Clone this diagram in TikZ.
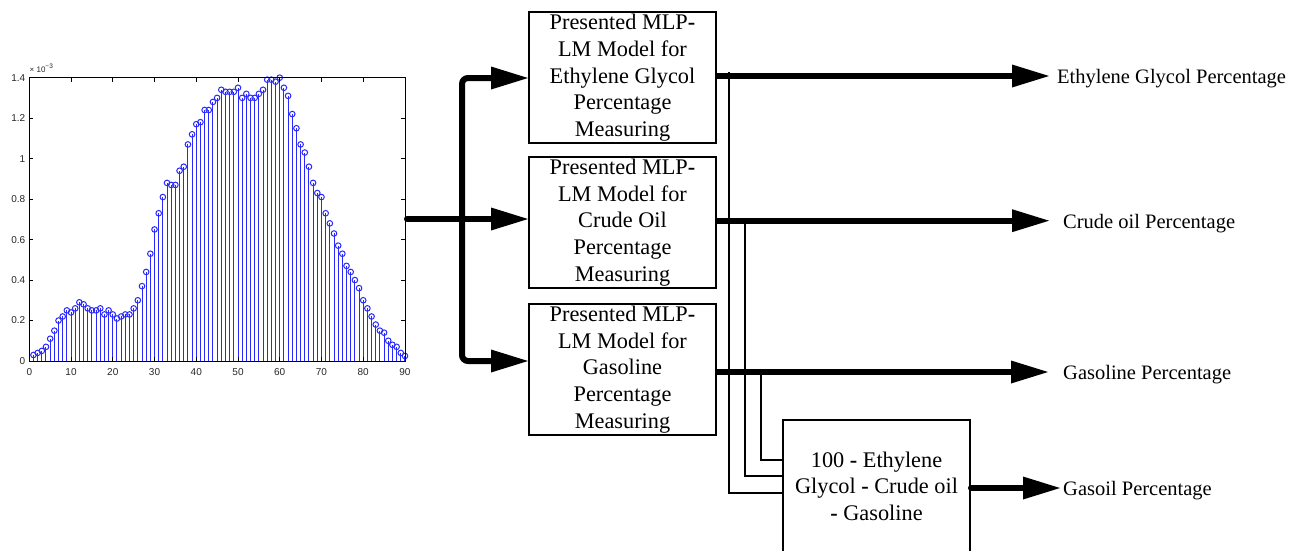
\documentclass[tikz,border=0pt]{standalone}
\usepackage{fontspec}
\setmainfont{Liberation Serif}
\newfontfamily\plotfont{Liberation Sans}
\usetikzlibrary{arrows.meta}
\definecolor{stemblue}{RGB}{40,40,255}
\tikzset{
  model/.style={draw, line width=2pt, minimum width=187pt, minimum height=131pt,
    align=center, inner sep=0pt, font=\fontsize{22.3}{26.6}\selectfont},
  bigarrow/.style={line width=6pt, -{Triangle[length=37pt,width=23pt,line width=0pt]}},
  thinline/.style={line width=2pt},
  outlabel/.style={anchor=base west, inner sep=0pt, font=\fontsize{20.5}{24}\selectfont},
  stemline/.style={stemblue, line width=1pt},
  stemmark/.style={stemblue, line width=1pt},
  axisframe/.style={black, line width=1pt},
  tickmark/.style={black, line width=0.8pt},
  ticklabel/.style={inner sep=0pt, text=black!85, font=\plotfont\fontsize{10}{11}\selectfont},
}
\begin{document}
\begin{tikzpicture}[x=1pt, y=-1pt]
\useasboundingbox (0,0) rectangle (1300,550);

% ---------- stem plot ----------
\foreach \n/\v in {1/0.03, 2/0.04, 3/0.05, 4/0.07, 5/0.11, 6/0.15, 7/0.20, 8/0.22, 9/0.25, 10/0.24,
  11/0.26, 12/0.29, 13/0.28, 14/0.26, 15/0.25, 16/0.25, 17/0.26, 18/0.23, 19/0.25, 20/0.23,
  21/0.21, 22/0.22, 23/0.23, 24/0.23, 25/0.26, 26/0.30, 27/0.37, 28/0.44, 29/0.53, 30/0.65,
  31/0.73, 32/0.81, 33/0.88, 34/0.87, 35/0.87, 36/0.94, 37/0.96, 38/1.07, 39/1.12, 40/1.17,
  41/1.18, 42/1.24, 43/1.24, 44/1.28, 45/1.30, 46/1.34, 47/1.33, 48/1.33, 49/1.33, 50/1.35,
  51/1.30, 52/1.32, 53/1.30, 54/1.30, 55/1.32, 56/1.34, 57/1.39, 58/1.39, 59/1.38, 60/1.40,
  61/1.35, 62/1.31, 63/1.22, 64/1.15, 65/1.07, 66/1.03, 67/0.96, 68/0.88, 69/0.83, 70/0.81,
  71/0.73, 72/0.68, 73/0.63, 74/0.57, 75/0.53, 76/0.47, 77/0.44, 78/0.40, 79/0.36, 80/0.30,
  81/0.26, 82/0.22, 83/0.18, 84/0.15, 85/0.14, 86/0.10, 87/0.08, 88/0.07, 89/0.04, 90/0.025}
{
  \draw[stemline] ({29.3+4.174*\n},361) -- ({29.3+4.174*\n},{361-202.4*\v});
  \draw[stemmark] ({29.3+4.174*\n},{361-202.4*\v}) circle[radius=2.8pt];
}
\draw[axisframe] (29.3,77.7) rectangle (405,361);
\foreach \k in {0,...,9} {
  \draw[tickmark] ({29.3+41.74*\k},361) -- ({29.3+41.74*\k},357);
  \draw[tickmark] ({29.3+41.74*\k},77.7) -- ({29.3+41.74*\k},81.7);
  \pgfmathtruncatemacro{\lab}{10*\k}
  \node[ticklabel] (xl\k) at ({29.3+41.74*\k},372) {\lab};
}
\foreach \k/\t in {0/0, 1/0.2, 2/0.4, 3/0.6, 4/0.8, 5/1, 6/1.2, 7/1.4} {
  \draw[tickmark] (29.3,{361-40.48*\k}) -- (33.3,{361-40.48*\k});
  \draw[tickmark] (405,{361-40.48*\k}) -- (401,{361-40.48*\k});
  \node[ticklabel, anchor=east] (yl\k) at (25.5,{361-40.48*\k}) {\t};
}
\node[ticklabel, anchor=base west] (scale) at (29.5,72.5)
  {\fontsize{8}{8}\selectfont × 10\raisebox{4pt}{\fontsize{6.5}{6.5}\selectfont −3}};

% ---------- model boxes ----------
\node[model] (box1) at (622.5,77.7) {Presented MLP\textbf{-}\\LM Model for\\Ethylene Glycol\\Percentage\\Measuring};
\node[model] (box2) at (622.5,222.6) {Presented MLP\textbf{-}\\LM Model for\\Crude Oil\\Percentage\\Measuring};
\node[model] (box3) at (622.5,369.5) {Presented MLP\textbf{-}\\LM Model for\\Gasoline\\Percentage\\Measuring};
\node[model, minimum height=132pt] (box4) at (876.5,486) {100 \textbf{-} Ethylene\\Glycol \textbf{-} Crude oil\\\textbf{-} Gasoline};

% ---------- input connectors ----------
\coordinate (inp) at (407,219);
\coordinate (b1) at (462,78);
\coordinate (b3) at (462,361);
\draw[line width=6pt, line cap=round, -{Triangle[length=37pt,width=23pt,line width=0pt]}]
  (inp) -- (box2.west |- inp);
\draw[line width=6pt, rounded corners=6pt,
  {Triangle[length=37pt,width=23pt,line width=0pt]}-{Triangle[length=37pt,width=23pt,line width=0pt]}]
  (box1.west |- b1) -- (b1) -- (b3) -- (box3.west |- b3);

% ---------- outputs ----------
\node[outlabel] (lab1) at (1057,83.5) {Ethylene Glycol Percentage};
\node[outlabel] (lab2) at (1063,228.2) {Crude oil Percentage};
\node[outlabel] (lab3) at (1063,379.5) {Gasoline Percentage};
\node[outlabel] (lab4) at (1063,495.5) {Gasoil Percentage};
\coordinate (t1) at (1049,76);
\coordinate (t2) at (1049,220.7);
\coordinate (t3) at (1048,372);
\coordinate (t4) at (1060,488);
\draw[bigarrow] (box1.east |- t1) -- (t1);
\draw[bigarrow] (box2.east |- t2) -- (t2);
\draw[bigarrow] (box3.east |- t3) -- (t3);
\draw[bigarrow, line cap=round] (box4.east |- t4) -- (t4);

% ---------- thin collecting lines ----------
\coordinate (j1) at (729.3,72);
\coordinate (j2) at (745,220.7);
\coordinate (j3) at (761,372);
\draw[thinline] (j1) |- ([yshift=-7pt]box4.west);
\draw[thinline] (j2) |- ([yshift=10pt]box4.west);
\draw[thinline] (j3) |- ([yshift=26pt]box4.west);
\end{tikzpicture}
\end{document}
